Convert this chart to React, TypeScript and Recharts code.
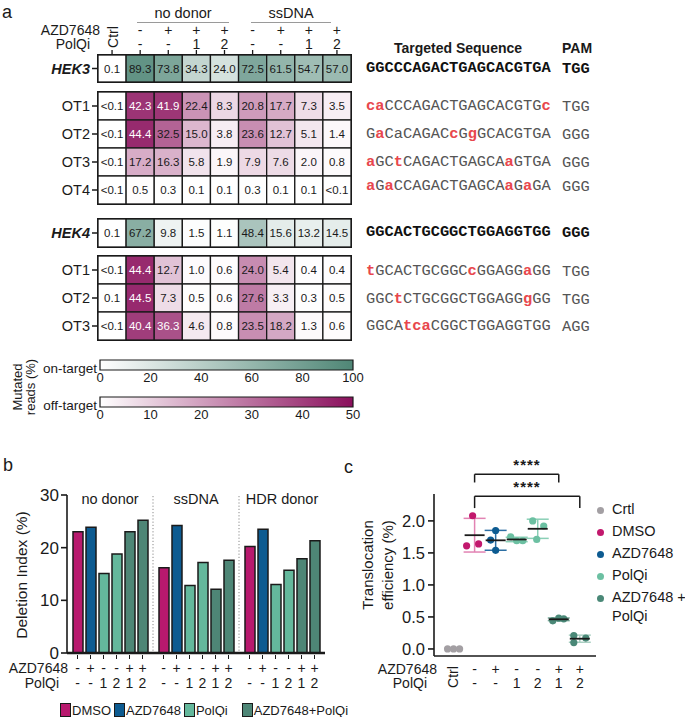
import React from 'react';
import {
  ScatterChart,
  Scatter,
  BarChart,
  Bar,
  XAxis,
  YAxis,
  ReferenceArea,
  ReferenceLine,
  ErrorBar,
} from 'recharts';

const FONT = '"Liberation Sans", Arial, Helvetica, sans-serif';
const MONO = '"Liberation Mono", "DejaVu Sans Mono", monospace';
const INK = '#1a1a1a';

// ---------------- colours ----------------
const DMSO_C = '#B8196E';
const AZD_C = '#0D5B91';
const POLQI_C = '#64B89C';
const COMBO_C = '#4E8676';
const CTRL_C = '#A39FA3';
const ON_END = '#4F8676';
const OFF_END = '#8A0F5C';

// ---------------- panel a data ----------------
const HEAT_AZD_SIGNS = ['', '-', '+', '+', '+', '-', '+', '+', '+'];
const HEAT_POLQI_SIGNS = ['', '-', '-', '1', '2', '-', '-', '1', '2'];

const HEK3_ON = ['0.1', '89.3', '73.8', '34.3', '24.0', '72.5', '61.5', '54.7', '57.0'];
const HEK3_OT1 = ['<0.1', '42.3', '41.9', '22.4', '8.3', '20.8', '17.7', '7.3', '3.5'];
const HEK3_OT2 = ['<0.1', '44.4', '32.5', '15.0', '3.8', '23.6', '12.7', '5.1', '1.4'];
const HEK3_OT3 = ['<0.1', '17.2', '16.3', '5.8', '1.9', '7.9', '7.6', '2.0', '0.8'];
const HEK3_OT4 = ['<0.1', '0.5', '0.3', '0.1', '0.1', '0.3', '0.1', '0.1', '<0.1'];
const HEK4_ON = ['0.1', '67.2', '9.8', '1.5', '1.1', '48.4', '15.6', '13.2', '14.5'];
const HEK4_OT1 = ['<0.1', '44.4', '12.7', '1.0', '0.6', '24.0', '5.4', '0.4', '0.4'];
const HEK4_OT2 = ['0.1', '44.5', '7.3', '0.5', '0.6', '27.6', '3.3', '0.3', '0.5'];
const HEK4_OT3 = ['<0.1', '40.4', '36.3', '4.6', '0.8', '23.5', '18.2', '1.3', '0.6'];

const ON_TICKS = [0, 20, 40, 60, 80, 100];
const OFF_TICKS = [0, 10, 20, 30, 40, 50];

// sequences: [..] marks mismatched (red) bases
const SEQ_ROWS = [
  { seq: 'GGCCCAGACTGAGCACGTGA', pam: 'TGG', bold: true },
  { seq: '[ca]CCCAGACTGAGCACGTG[c]', pam: 'TGG', bold: false },
  { seq: 'G[a]CaCAGAC[c]G[g]GCACGTGA', pam: 'GGG', bold: false },
  { seq: '[a]GC[t]CAGACTGAGCA[a]GTGA', pam: 'GGG', bold: false },
  { seq: '[a]G[a]CCAGACTGAGCA[a]G[a]GA', pam: 'GGG', bold: false },
  { seq: 'GGCACTGCGGCTGGAGGTGG', pam: 'GGG', bold: true },
  { seq: '[t]GCACTGCGGC[c]GGAGG[a]GG', pam: 'TGG', bold: false },
  { seq: 'GGC[t]CTGCGGCTGGAGG[g]GG', pam: 'TGG', bold: false },
  { seq: 'GGCA[tca]CGGCTGGAGGTGG', pam: 'AGG', bold: false },
];
const SEQ_Y = [69, 107, 135, 163, 187, 233, 272, 300, 327];

// ---------------- panel b data ----------------
const B_GROUPS = ['no donor', 'ssDNA', 'HDR donor'];
const B_DMSO = [23.0, 16.2, 20.2];
const B_AZD = [23.9, 24.2, 23.5];
const B_POLQI1 = [15.1, 12.8, 13.0];
const B_POLQI2 = [18.8, 17.2, 15.7];
const B_AZD_POLQI1 = [23.0, 12.1, 17.9];
const B_AZD_POLQI2 = [25.2, 17.6, 21.3];
const B_AZD_SIGNS = ['-', '+', '-', '-', '+', '+'];
const B_POLQI_SIGNS = ['-', '-', '1', '2', '1', '2'];
const B_TICKS = [0, 10, 20, 30];

// ---------------- panel c data ----------------
const C_CTRL = [0.0, 0.0, 0.0];
const C_DMSO = [1.61, 2.08, 1.64];
const C_AZD = [1.7, 1.85, 1.54];
const C_POLQI1 = [1.75, 1.69, 1.69];
const C_POLQI2 = [2.0, 1.92, 1.71];
const C_AZD_POLQI1 = [0.44, 0.48, 0.47];
const C_AZD_POLQI2 = [0.21, 0.1, 0.17];
const C_AZD_SIGNS = ['', '-', '+', '-', '-', '+', '+'];
const C_POLQI_SIGNS = ['', '-', '-', '1', '2', '1', '2'];
const C_TICKS = [0, 0.5, 1.0, 1.5, 2.0];

// ---------------- helpers ----------------
function mix(end: string, t: number) {
  const tt = Math.max(0, Math.min(1, t));
  const e = [1, 3, 5].map((i) => parseInt(end.slice(i, i + 2), 16));
  const c = e.map((v) => Math.round(255 + (v - 255) * tt));
  return `rgb(${c.join(',')})`;
}
const parseVal = (s: string) => (s.startsWith('<') ? 0 : parseFloat(s));

const CELL_W = 253 / 9;

type HeatRow = { label: string; values: string[]; bold?: boolean };

function HeatBlock({
  rows,
  kind,
  top,
  rowH,
  header,
}: {
  rows: HeatRow[];
  kind: 'on' | 'off';
  top: number;
  rowH: number;
  header?: boolean;
}) {
  const n = rows.length;
  const data = rows.flatMap((r, ri) =>
    r.values.map((s, ci) => ({ x: ci + 0.5, y: ri + 0.5, label: s, v: parseVal(s) }))
  );
  const mt = header ? 35 : 3;
  const axisH = header ? 20 : 0;
  const plotH = n * rowH;
  const chartTop = top - mt - axisH;

  const cellShape = (p: any) => {
    const { cx, cy, payload } = p;
    const fill = kind === 'on' ? mix(ON_END, payload.v / 100) : mix(OFF_END, payload.v / 50);
    const white = kind === 'off' && payload.v > 35;
    return (
      <g>
        <rect
          x={cx - CELL_W / 2}
          y={cy - rowH / 2}
          width={CELL_W}
          height={rowH}
          fill={fill}
          stroke={INK}
          strokeWidth={1.3}
        />
        <text
          x={cx}
          y={cy}
          dy="0.36em"
          textAnchor="middle"
          fontSize={11.5}
          fontFamily={FONT}
          fill={white ? '#ffffff' : INK}
        >
          {payload.label}
        </text>
      </g>
    );
  };

  const rowTick = (p: any) => {
    const r = rows[Math.floor(p.payload.value)];
    if (!r) return <g />;
    return (
      <text
        x={p.x}
        y={p.y}
        dy="0.36em"
        textAnchor="end"
        fontSize={14.5}
        fontFamily={FONT}
        fontWeight={r.bold ? 700 : 400}
        fontStyle={r.bold ? 'italic' : 'normal'}
        fill={INK}
      >
        {r.label}
      </text>
    );
  };

  const headerTick = (p: any) => {
    const ci = Math.floor(p.payload.value);
    if (ci === 0) {
      return (
        <text
          transform={`translate(${p.x + 1},${37 - chartTop}) rotate(-90)`}
          textAnchor="middle"
          dy="0.35em"
          fontSize={14}
          fontFamily={FONT}
          fill={INK}
        >
          Ctrl
        </text>
      );
    }
    return (
      <g>
        <text x={p.x} y={30 - chartTop} dy="0.35em" textAnchor="middle" fontSize={14} fontFamily={FONT} fill={INK}>
          {HEAT_AZD_SIGNS[ci]}
        </text>
        <text x={p.x} y={44 - chartTop} dy="0.35em" textAnchor="middle" fontSize={14} fontFamily={FONT} fill={INK}>
          {HEAT_POLQI_SIGNS[ci]}
        </text>
      </g>
    );
  };

  return (
    <div style={{ position: 'absolute', left: 30, top: chartTop }}>
      <ScatterChart
        width={68 + 253 + 4}
        height={mt + axisH + plotH + 3}
        margin={{ top: mt, right: 4, bottom: 3, left: 0 }}
      >
        <XAxis
          type="number"
          dataKey="x"
          domain={[0, 9]}
          orientation="top"
          hide={!header}
          height={axisH}
          ticks={[0.5, 1.5, 2.5, 3.5, 4.5, 5.5, 6.5, 7.5, 8.5]}
          interval={0}
          axisLine={false}
          tickSize={5}
          tickLine={{ stroke: INK, strokeWidth: 1.3 }}
          tick={headerTick}
        />
        <YAxis
          type="number"
          dataKey="y"
          domain={[0, n]}
          reversed
          width={68}
          ticks={rows.map((_, i) => i + 0.5)}
          interval={0}
          axisLine={false}
          tickSize={6}
          tickLine={{ stroke: INK, strokeWidth: 1.5 }}
          tick={rowTick}
        />
        <Scatter data={data} shape={cellShape} isAnimationActive={false} />
        <ReferenceLine x={5} stroke={INK} strokeWidth={4.6} />
        <ReferenceLine x={5} stroke="#ffffff" strokeWidth={1.6} />
        <ReferenceArea
          x1={0}
          x2={9}
          y1={0}
          y2={n}
          fill="none"
          fillOpacity={0}
          stroke={INK}
          strokeWidth={2}
          ifOverflow="visible"
        />
      </ScatterChart>
    </div>
  );
}

function ColorBar({ top, max, ticks, id, end }: { top: number; max: number; ticks: number[]; id: string; end: string }) {
  return (
    <div style={{ position: 'absolute', left: 88, top: top - 2 }}>
      <BarChart
        layout="vertical"
        width={12 + 253 + 12}
        height={2 + 10 + 20}
        data={[{ k: id, v: max }]}
        margin={{ top: 2, right: 12, bottom: 0, left: 12 }}
        barCategoryGap={0}
      >
        <defs>
          <linearGradient id={id} x1="0" y1="0" x2="1" y2="0">
            <stop offset="0" stopColor="#ffffff" />
            <stop offset="1" stopColor={end} />
          </linearGradient>
        </defs>
        <XAxis
          type="number"
          domain={[0, max]}
          ticks={ticks}
          interval={0}
          height={20}
          axisLine={false}
          tickLine={false}
          tickSize={0}
          tickMargin={3}
          tick={{ fontSize: 13, fill: INK, fontFamily: FONT }}
        />
        <XAxis
          xAxisId="t"
          type="number"
          orientation="top"
          domain={[0, max]}
          ticks={ticks.slice(1, -1)}
          interval={0}
          height={0}
          mirror
          axisLine={false}
          tickSize={3}
          tickLine={{ stroke: INK, strokeWidth: 1.2 }}
          tickFormatter={() => ''}
        />
        <YAxis type="category" dataKey="k" hide />
        <Bar dataKey="v" fill={`url(#${id})`} stroke={INK} strokeWidth={1.2} isAnimationActive={false} />
      </BarChart>
    </div>
  );
}

function Seq({ seq, bold }: { seq: string; bold: boolean }) {
  const parts: { t: string; red: boolean }[] = [];
  const re = /\[([^\]]+)\]|([^\[]+)/g;
  let m: RegExpExecArray | null;
  while ((m = re.exec(seq))) {
    if (m[1]) parts.push({ t: m[1], red: true });
    else parts.push({ t: m[2], red: false });
  }
  return (
    <>
      {parts.map((p, i) => (
        <span
          key={i}
          style={{
            color: p.red ? '#E8474D' : bold ? '#111' : '#555',
            fontWeight: p.red || bold ? 700 : 400,
          }}
        >
          {p.t}
        </span>
      ))}
    </>
  );
}

// ---------------- panel b ----------------
const bData = B_GROUPS.map((g, i) => ({
  group: g,
  dmso: B_DMSO[i],
  azd: B_AZD[i],
  p1: B_POLQI1[i],
  p2: B_POLQI2[i],
  ap1: B_AZD_POLQI1[i],
  ap2: B_AZD_POLQI2[i],
}));
const B_SERIES = [
  { key: 'dmso', color: DMSO_C },
  { key: 'azd', color: AZD_C },
  { key: 'p1', color: POLQI_C },
  { key: 'p2', color: POLQI_C },
  { key: 'ap1', color: COMBO_C },
  { key: 'ap2', color: COMBO_C },
];
const B_LEGEND = [
  { label: 'DMSO', color: DMSO_C },
  { label: 'AZD7648', color: AZD_C },
  { label: 'PolQi', color: POLQI_C },
  { label: 'AZD7648+PolQi', color: COMBO_C },
];

const bGroupTick = (p: any) => {
  const gi = B_GROUPS.indexOf(p.payload.value);
  const cx = p.x;
  const y = p.y;
  return (
    <g fontFamily={FONT} fill={INK}>
      {gi > 0 && (
        <line x1={cx - 43} x2={cx - 43} y1={y - 157} y2={y - 1} stroke="#8a8a8a" strokeDasharray="1.2 2" strokeWidth={1} />
      )}
      <text x={cx} y={y - 154} dy="0.35em" textAnchor="middle" fontSize={14.5} fill={INK}>
        {p.payload.value}
      </text>
      {B_AZD_SIGNS.map((s, i) => {
        const bx = cx + (i - 2.5) * 13;
        return (
          <g key={i}>
            <line x1={bx} x2={bx} y1={y + 2} y2={y + 6} stroke={INK} strokeWidth={1} />
            <text x={bx} y={y + 15} dy="0.35em" textAnchor="middle" fontSize={14} fill={INK}>
              {s}
            </text>
            <text x={bx} y={y + 30} dy="0.35em" textAnchor="middle" fontSize={14} fill={INK}>
              {B_POLQI_SIGNS[i]}
            </text>
          </g>
        );
      })}
    </g>
  );
};

// ---------------- panel c ----------------
const C_GROUPS = [
  { name: 'Crtl', values: C_CTRL, color: CTRL_C, err: CTRL_C, jit: [-6, 0, 6], mean: false },
  { name: 'DMSO', values: C_DMSO, color: '#C2186D', err: '#E283B3', jit: [-8, -2, 4], mean: true },
  { name: 'AZD7648', values: C_AZD, color: AZD_C, err: '#2D6FA3', jit: [-5, 0, 0], mean: true },
  { name: 'PolQi 1', values: C_POLQI1, color: '#6CC0A2', err: '#8ACFB6', jit: [-6, 0, 6], mean: true },
  { name: 'PolQi 2', values: C_POLQI2, color: '#6CC0A2', err: '#8ACFB6', jit: [-5, 6, -1], mean: true },
  { name: 'AZD7648+PolQi 1', values: C_AZD_POLQI1, color: '#4A8877', err: '#79AA9B', jit: [-6, 0, 5], mean: true },
  { name: 'AZD7648+PolQi 2', values: C_AZD_POLQI2, color: '#4A8877', err: '#A9CFC2', jit: [-6, -6, 6], mean: true },
];
const C_LEGEND = [
  { label: 'Crtl', color: CTRL_C },
  { label: 'DMSO', color: '#C2186D' },
  { label: 'AZD7648', color: AZD_C },
  { label: 'PolQi', color: '#6CC0A2' },
  { label: 'AZD7648 +\nPolQi', color: '#4A8877' },
];

const meanOf = (a: number[]) => a.reduce((s, v) => s + v, 0) / a.length;
const sdOf = (a: number[]) => {
  const m = meanOf(a);
  return Math.sqrt(a.reduce((s, v) => s + (v - m) * (v - m), 0) / (a.length - 1));
};

const cTick = (p: any) => {
  const i = Math.round(p.payload.value);
  const x = p.x;
  const y = p.y;
  if (i === 0) {
    return (
      <text transform={`translate(${x},${y + 21}) rotate(-90)`} textAnchor="middle" dy="0.35em" fontSize={14} fontFamily={FONT} fill={INK}>
        Ctrl
      </text>
    );
  }
  return (
    <g>
      <text x={x} y={y + 13} dy="0.35em" textAnchor="middle" fontSize={14} fontFamily={FONT} fill={INK}>
        {C_AZD_SIGNS[i]}
      </text>
      <text x={x} y={y + 27} dy="0.35em" textAnchor="middle" fontSize={14} fontFamily={FONT} fill={INK}>
        {C_POLQI_SIGNS[i]}
      </text>
    </g>
  );
};

const txt = (extra: React.CSSProperties): React.CSSProperties => ({
  position: 'absolute',
  whiteSpace: 'nowrap',
  fontFamily: FONT,
  color: INK,
  lineHeight: 1,
  ...extra,
});

export default function App() {
  return (
    <div
      style={{
        position: 'absolute',
        left: 0,
        top: 0,
        width: 685,
        height: 717,
        background: '#fff',
        overflow: 'hidden',
        fontFamily: FONT,
        color: INK,
      }}
    >
      {/* ---------- panel a ---------- */}
      <div style={txt({ left: 2, top: 3, fontSize: 18 })}>a</div>
      <div style={txt({ left: 137, width: 92, top: 6, fontSize: 14.5, textAlign: 'center' })}>no donor</div>
      <div style={{ position: 'absolute', left: 137, width: 92, top: 22, height: 1, background: '#9a9a9a' }} />
      <div style={txt({ left: 251, width: 80, top: 6, fontSize: 14.5, textAlign: 'center' })}>ssDNA</div>
      <div style={{ position: 'absolute', left: 251, width: 80, top: 22, height: 1, background: '#9a9a9a' }} />
      <div style={txt({ right: 685 - 100, top: 23, fontSize: 14, textAlign: 'right' })}>AZD7648</div>
      <div style={txt({ right: 685 - 90, top: 37, fontSize: 14, textAlign: 'right' })}>PolQi</div>

      <HeatBlock rows={[{ label: 'HEK3', values: HEK3_ON, bold: true }]} kind="on" top={55} rowH={27} header />
      <HeatBlock
        rows={[
          { label: 'OT1', values: HEK3_OT1 },
          { label: 'OT2', values: HEK3_OT2 },
          { label: 'OT3', values: HEK3_OT3 },
          { label: 'OT4', values: HEK3_OT4 },
        ]}
        kind="off"
        top={92}
        rowH={28}
      />
      <HeatBlock rows={[{ label: 'HEK4', values: HEK4_ON, bold: true }]} kind="on" top={219} rowH={28} />
      <HeatBlock
        rows={[
          { label: 'OT1', values: HEK4_OT1 },
          { label: 'OT2', values: HEK4_OT2 },
          { label: 'OT3', values: HEK4_OT3 },
        ]}
        kind="off"
        top={256}
        rowH={28}
      />

      {/* colour bars */}
      <div
        style={txt({
          left: 24,
          top: 387,
          fontSize: 13,
          lineHeight: '13px',
          textAlign: 'center',
          transform: 'translate(-50%, -50%) rotate(-90deg)',
        })}
      >
        Mutated
        <br />
        reads (%)
      </div>
      <div style={txt({ right: 685 - 97, top: 362, fontSize: 13.5, textAlign: 'right' })}>on-target</div>
      <div style={txt({ right: 685 - 97, top: 399, fontSize: 13.5, textAlign: 'right' })}>off-target</div>
      <ColorBar top={360} max={100} ticks={ON_TICKS} id="gradOn" end={ON_END} />
      <ColorBar top={397} max={50} ticks={OFF_TICKS} id="gradOff" end={OFF_END} />

      {/* sequences */}
      <div style={txt({ left: 393, width: 130, top: 41, fontSize: 14, fontWeight: 700, textAlign: 'center' })}>
        Targeted Sequence
      </div>
      <div style={txt({ left: 562, top: 41, fontSize: 14, fontWeight: 700 })}>PAM</div>
      {SEQ_ROWS.map((r, i) => (
        <React.Fragment key={i}>
          <div style={txt({ left: 366, top: SEQ_Y[i] - 8, fontSize: 15.4, fontFamily: MONO })}>
            <Seq seq={r.seq} bold={r.bold} />
          </div>
          <div
            style={txt({
              left: 562,
              top: SEQ_Y[i] - 7,
              fontSize: 15.4,
              fontFamily: MONO,
              fontWeight: r.bold ? 700 : 400,
              color: r.bold ? '#111' : '#555',
            })}
          >
            {r.pam}
          </div>
        </React.Fragment>
      ))}

      {/* ---------- panel b ---------- */}
      <div style={txt({ left: 3, top: 456, fontSize: 18 })}>b</div>
      <div style={txt({ left: 22, top: 575, fontSize: 15.5, transform: 'translate(-50%, -50%) rotate(-90deg)' })}>
        Deletion Index (%)
      </div>
      <div style={{ position: 'absolute', left: 0, top: 480 }}>
        <BarChart
          width={335}
          height={218}
          data={bData}
          margin={{ top: 15, right: 10, bottom: 0, left: 0 }}
          barSize={10}
          barGap={3}
        >
          <XAxis
            dataKey="group"
            height={45}
            interval={0}
            axisLine={{ stroke: INK, strokeWidth: 2.4 }}
            tickLine={false}
            tickSize={0}
            tickMargin={0}
            tick={bGroupTick}
          />
          <YAxis
            type="number"
            domain={[0, 30]}
            ticks={B_TICKS}
            interval={0}
            width={67}
            axisLine={{ stroke: INK, strokeWidth: 1.6 }}
            tickLine={{ stroke: INK, strokeWidth: 1.6 }}
            tickSize={6}
            tickMargin={2}
            tick={{ fontSize: 17, fill: INK, fontFamily: FONT }}
          />
          {B_SERIES.map((s) => (
            <Bar key={s.key} dataKey={s.key} fill={s.color} stroke={INK} strokeWidth={1.5} isAnimationActive={false} />
          ))}
        </BarChart>
      </div>
      <div style={txt({ right: 685 - 68, top: 661, fontSize: 14, textAlign: 'right' })}>AZD7648</div>
      <div style={txt({ right: 685 - 59, top: 676, fontSize: 14, textAlign: 'right' })}>PolQi</div>
      <div style={{ position: 'absolute', left: 60, top: 703, display: 'flex', alignItems: 'center' }}>
        {B_LEGEND.map((l, i) => (
          <div key={i} style={{ display: 'flex', alignItems: 'center', marginLeft: i === 0 ? 0 : i === 3 ? 14 : 3 }}>
            <div style={{ width: 9, height: 12, background: l.color, border: `1px solid ${INK}` }} />
            <span style={{ fontSize: 13, marginLeft: 1, lineHeight: 1, fontFamily: FONT, color: INK }}>{l.label}</span>
          </div>
        ))}
      </div>

      {/* ---------- panel c ---------- */}
      <div style={txt({ left: 344, top: 458, fontSize: 18 })}>c</div>
      <div
        style={txt({
          left: 378,
          top: 565,
          fontSize: 15,
          lineHeight: '20px',
          textAlign: 'center',
          transform: 'translate(-50%, -50%) rotate(-90deg)',
        })}
      >
        Translocation
        <br />
        efficiency (%)
      </div>
      <div style={{ position: 'absolute', left: 345, top: 470 }}>
        <ScatterChart width={255} height={231} margin={{ top: 24, right: 4, bottom: 0, left: 0 }}>
          <XAxis
            type="number"
            dataKey="x"
            domain={[-0.93, 6.77]}
            allowDataOverflow
            ticks={[0, 1, 2, 3, 4, 5, 6]}
            interval={0}
            height={45}
            axisLine={{ stroke: INK, strokeWidth: 1.6 }}
            tickLine={false}
            tickSize={0}
            tickMargin={0}
            tick={cTick}
          />
          <YAxis
            type="number"
            dataKey="y"
            domain={[-0.11, 2.42]}
            allowDataOverflow
            ticks={C_TICKS}
            interval={0}
            width={89}
            axisLine={{ stroke: INK, strokeWidth: 1.6 }}
            tickLine={{ stroke: INK, strokeWidth: 1.6 }}
            tickSize={6}
            tickMargin={3}
            tickFormatter={(v: number) => v.toFixed(1)}
            tick={{ fontSize: 16.5, fill: INK, fontFamily: FONT }}
          />
          {C_GROUPS.map((g, gi) => (
            <Scatter
              key={g.name}
              name={g.name}
              data={g.values.map((v, ri) => ({ x: gi, y: v, r: ri }))}
              shape={(p: any) => <circle cx={p.cx + g.jit[p.payload.r]} cy={p.cy} r={3.6} fill={g.color} />}
              isAnimationActive={false}
            />
          ))}
          {C_GROUPS.filter((g) => g.mean).map((g) => {
            const gi = C_GROUPS.indexOf(g);
            return (
              <Scatter
                key={g.name + '-mean'}
                data={[{ x: gi, y: meanOf(g.values), sd: sdOf(g.values) }]}
                shape={(p: any) => (
                  <line x1={p.cx - 10} x2={p.cx + 10} y1={p.cy} y2={p.cy} stroke={INK} strokeWidth={1.8} />
                )}
                isAnimationActive={false}
              >
                <ErrorBar dataKey="sd" direction="y" width={11} stroke={g.err} strokeWidth={1.5} />
              </Scatter>
            );
          })}
          <ReferenceLine segment={[{ x: 1, y: 2.6 }, { x: 1, y: 2.728 }]} stroke={INK} strokeWidth={1.5} ifOverflow="visible" />
          <ReferenceLine segment={[{ x: 1, y: 2.728 }, { x: 5, y: 2.728 }]} stroke={INK} strokeWidth={1.5} ifOverflow="visible" />
          <ReferenceLine segment={[{ x: 5, y: 2.728 }, { x: 5, y: 2.6 }]} stroke={INK} strokeWidth={1.5} ifOverflow="visible" />
          <ReferenceLine segment={[{ x: 1, y: 2.2 }, { x: 1, y: 2.385 }]} stroke={INK} strokeWidth={1.5} ifOverflow="visible" />
          <ReferenceLine segment={[{ x: 1, y: 2.385 }, { x: 6, y: 2.385 }]} stroke={INK} strokeWidth={1.5} ifOverflow="visible" />
          <ReferenceLine segment={[{ x: 6, y: 2.385 }, { x: 6, y: 2.2 }]} stroke={INK} strokeWidth={1.5} ifOverflow="visible" />
        </ScatterChart>
      </div>
      <div style={txt({ left: 505, width: 44, top: 457, fontSize: 15, fontWeight: 700, textAlign: 'center', letterSpacing: 1 })}>
        ****
      </div>
      <div style={txt({ left: 505, width: 44, top: 479, fontSize: 15, fontWeight: 700, textAlign: 'center', letterSpacing: 1 })}>
        ****
      </div>
      <div style={txt({ right: 685 - 437, top: 662, fontSize: 14, textAlign: 'right' })}>AZD7648</div>
      <div style={txt({ right: 685 - 427, top: 676, fontSize: 14, textAlign: 'right' })}>PolQi</div>
      {C_LEGEND.map((l, i) => (
        <React.Fragment key={i}>
          <div
            style={{
              position: 'absolute',
              left: 597,
              top: 510 + i * 22 - 3.5,
              width: 7,
              height: 7,
              borderRadius: '50%',
              background: l.color,
            }}
          />
          <div style={txt({ left: 612, top: 510 + i * 22 - 8, fontSize: 14.5, lineHeight: '19px' })}>
            {l.label.split('\n').map((t, k) => (
              <div key={k} style={{ marginTop: k === 0 ? -2 : 0 }}>
                {t}
              </div>
            ))}
          </div>
        </React.Fragment>
      ))}
    </div>
  );
}
